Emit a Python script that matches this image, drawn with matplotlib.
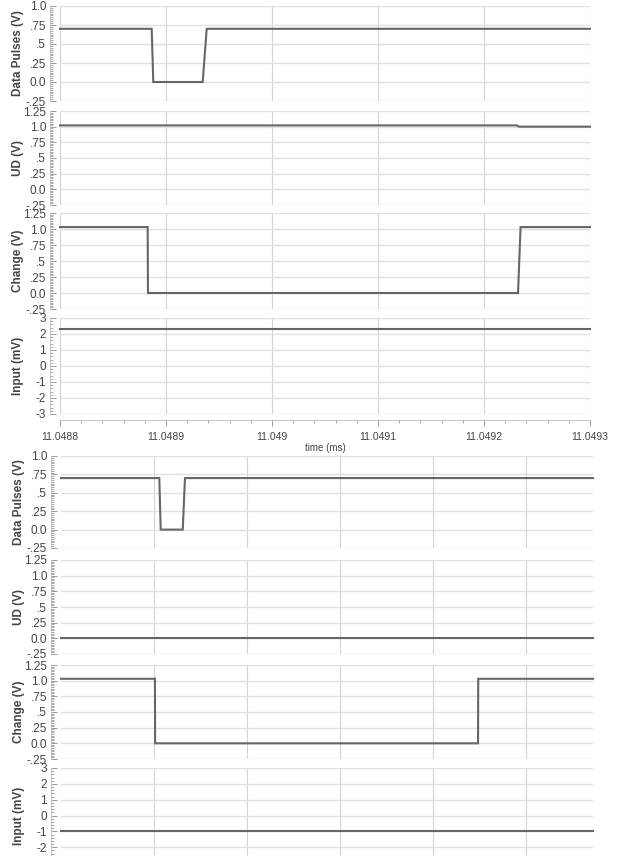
import matplotlib
matplotlib.use("Agg")
import matplotlib.pyplot as plt
from matplotlib.ticker import MultipleLocator, FixedLocator, FixedFormatter

plt.rcParams['font.family'] = ['Liberation Sans Narrow', 'Liberation Sans', 'DejaVu Sans']

# ---------------- data: top group (time in ms) ----------------
top_xlim = (11.0488, 11.0493)
top_xticks = [11.0488, 11.0489, 11.0490, 11.0491, 11.0492, 11.0493]
top_xticklabels = ["11.0488", "11.0489", "11.049", "11.0491", "11.0492", "11.0493"]

top_pulse_t = [11.0488, 11.0488865, 11.0488880, 11.0489346, 11.0489384, 11.0493]
top_pulse_v = [0.70, 0.70, 0.0, 0.0, 0.70, 0.70]
top_ud_t = [11.0488, 11.0492310, 11.0492330, 11.0493]
top_ud_v = [1.02, 1.02, 1.0, 1.0]
top_change_t = [11.0488, 11.0488827, 11.0488830, 11.0492321, 11.0492345, 11.0493]
top_change_v = [1.03, 1.03, 0.0, 0.0, 1.03, 1.03]
top_input_t = [11.0488, 11.0493]
top_input_v = [2.3, 2.3]

# ---------------- data: bottom group (x in grid units) ----------------
bot_xlim = (-1.0, 4.72)
bot_xticks = [0, 1, 2, 3, 4]
bot_pulse_t = [-1.0, 0.057, 0.072, 0.309, 0.333, 4.72]
bot_pulse_v = [0.70, 0.70, 0.0, 0.0, 0.70, 0.70]
bot_ud_t = [-1.0, 4.72]
bot_ud_v = [0.0, 0.0]
bot_change_t = [-1.0, 0.010, 0.012, 3.484, 3.486, 4.72]
bot_change_v = [1.03, 1.03, 0.0, 0.0, 1.03, 1.03]
bot_input_t = [-1.0, 4.72]
bot_input_v = [-1.0, -1.0]

# ---------------- y axis definitions ----------------
pulse_ticks = [-0.25, 0.0, 0.25, 0.5, 0.75, 1.0]
pulse_labels = ["-.25", "0.0", ".25", ".5", ".75", "1.0"]
v125_ticks = [-0.25, 0.0, 0.25, 0.5, 0.75, 1.0, 1.25]
v125_labels = ["-.25", "0.0", ".25", ".5", ".75", "1.0", "1.25"]
input_ticks = [-3, -2, -1, 0, 1, 2, 3]
input_labels = ["-3", "-2", "-1", "0", "1", "2", "3"]

ylabels = ["Data Pulses (V)", "UD (V)", "Change (V)", "Input (mV)"]

W, H = 617, 856
fig = plt.figure(figsize=(W / 100, H / 100), dpi=100)
fig.patch.set_facecolor("white")

line_c = "#666666"
grid_c = "#e0e0e0"
text_c = "#444444"


def make_ax(x0, x1, ytop, ybot):
    return fig.add_axes([x0 / W, 1 - ybot / H, (x1 - x0) / W, (ybot - ytop) / H])


def style(ax, yticks, ylabs, ylim, minor, label, xlim, xticks):
    ax.set_xlim(*xlim)
    ax.set_ylim(*ylim)
    ax.yaxis.set_major_locator(FixedLocator(yticks))
    ax.yaxis.set_major_formatter(FixedFormatter(ylabs))
    ax.yaxis.set_minor_locator(MultipleLocator(minor))
    ax.xaxis.set_major_locator(FixedLocator(xticks))
    for s in ["top", "right", "bottom"]:
        ax.spines[s].set_visible(False)
    ax.spines["left"].set_position(("outward", 7))
    ax.spines["left"].set_color("#bbbbbb")
    ax.spines["left"].set_linewidth(0.6)
    ax.grid(True, which="major", axis="y", color=grid_c, linewidth=1.0)
    ax.grid(True, which="major", axis="x", color="#d4d4d4", linewidth=0.8)
    ax.set_axisbelow(True)
    ax.tick_params(axis="y", which="major", direction="in", length=4, width=0.7,
                   colors="#999999", labelcolor=text_c, labelsize=8.5, pad=3)
    ax.tick_params(axis="y", which="minor", direction="in", length=2.5, width=0.6,
                   colors="#999999")
    ax.tick_params(axis="x", which="both", length=0, labelbottom=False)
    ax.set_ylabel(label, fontsize=8.5, color=text_c, fontweight="bold", labelpad=1)
    ax.yaxis.set_label_coords(-36 / ax.bbox.width, 0.5)


def build(group):
    (x0, x1, rows, xlim, xticks, series) = group
    axes = []
    specs = [
        (pulse_ticks, pulse_labels, (-0.25, 1.0), 0.025),
        (v125_ticks, v125_labels, (-0.25, 1.25), 0.025),
        (v125_ticks, v125_labels, (-0.25, 1.25), 0.025),
        (input_ticks, input_labels, (-3, 3), 0.2),
    ]
    for i, ((yt, yb), (tk, lb, yl, mn), (t, v), lab) in enumerate(zip(rows, specs, series, ylabels)):
        ax = make_ax(x0, x1, yt, yb)
        style(ax, tk, lb, yl, mn, lab, xlim, xticks)
        ax.plot(t, v, color=line_c, linewidth=1.5, solid_joinstyle="miter", clip_on=False)
        axes.append(ax)
    return axes


top_rows = [(6, 101), (111, 205), (213, 309), (318, 414)]
bot_rows = [(456, 548), (560, 654), (665, 759), (768, 863)]

top_axes = build((60, 590, top_rows, top_xlim, top_xticks,
                  [(top_pulse_t, top_pulse_v), (top_ud_t, top_ud_v),
                   (top_change_t, top_change_v), (top_input_t, top_input_v)]))
bot_axes = build((61, 593, bot_rows, bot_xlim, bot_xticks,
                  [(bot_pulse_t, bot_pulse_v), (bot_ud_t, bot_ud_v),
                   (bot_change_t, bot_change_v), (bot_input_t, bot_input_v)]))

# x axis of the top group
axb = top_axes[3]
axb.spines["bottom"].set_visible(True)
axb.spines["bottom"].set_position(("outward", 4))
axb.spines["bottom"].set_color("#bbbbbb")
axb.spines["bottom"].set_linewidth(0.6)
axb.xaxis.set_major_formatter(FixedFormatter(top_xticklabels))
axb.xaxis.set_minor_locator(MultipleLocator(0.00002))
axb.tick_params(axis="x", which="major", length=4, width=0.7, colors="#999999",
                labelcolor=text_c, labelsize=7.5, labelbottom=True, pad=5)
axb.tick_params(axis="x", which="minor", length=2.5, width=0.6, colors="#999999")
axb.set_xlabel("time (ms)", fontsize=7, color=text_c, labelpad=1)

fig.savefig("out.png", dpi=100, facecolor="white")
